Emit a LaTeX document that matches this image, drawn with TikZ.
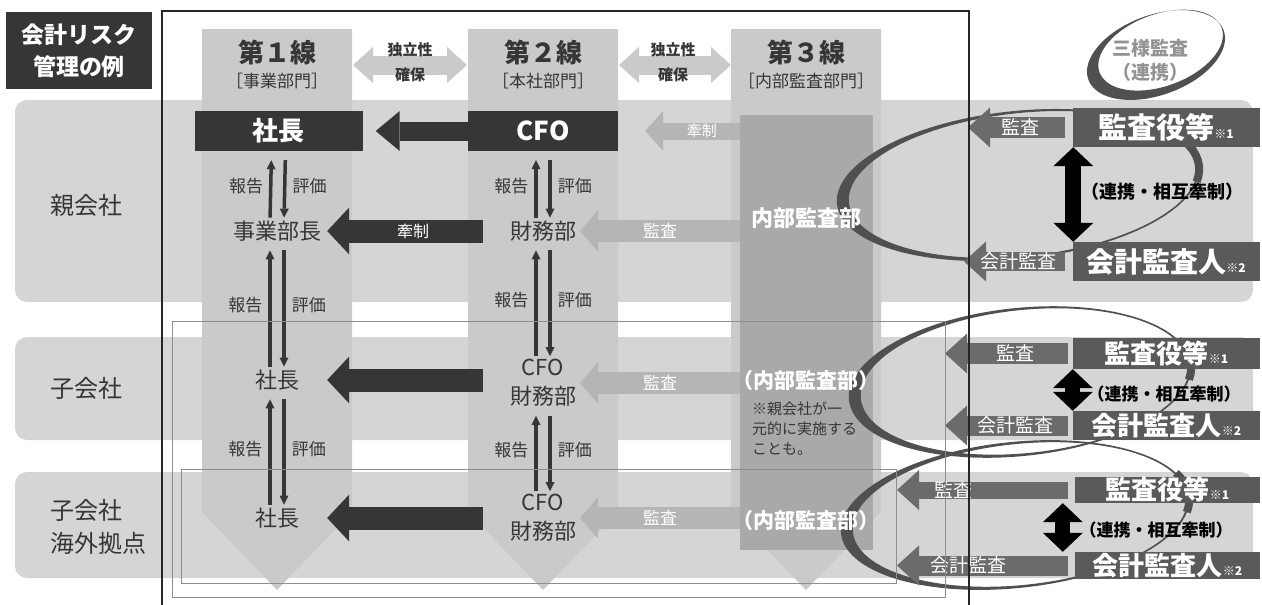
\documentclass[tikz,border=0pt]{standalone}
\usepackage{fontspec}
\setmainfont{Noto Sans CJK JP}
\usetikzlibrary{positioning,backgrounds,arrows.meta}

\definecolor{bandGray}{HTML}{D5D5D5}
\definecolor{colGray}{HTML}{CACACA}
\definecolor{auditGray}{HTML}{A9A9A9}
\definecolor{lightGray}{HTML}{B5B5B5}
\definecolor{darkGray}{HTML}{363636}
\definecolor{boxGray}{HTML}{5A5A5A}
\definecolor{swooshGray}{HTML}{505050}
\definecolor{frameGray}{HTML}{8E8E8E}

\newcommand{\fsz}[2]{\fontsize{#1}{#2}\selectfont}

\begin{document}
\begin{tikzpicture}[x=1pt, y=-1pt,
    bandStyle/.style={fill=bandGray, rounded corners=12pt},
    colStyle/.style={fill=colGray},
    titleNode/.style={fill=darkGray, text=white, font=\fsz{23}{32}\bfseries, align=center, minimum width=146pt, minimum height=77pt, inner sep=0pt},
    rowNode/.style={font=\fsz{24}{33}, align=left, anchor=west, inner sep=0pt, text=darkGray},
    headNode/.style={font=\fsz{26}{30}\bfseries, inner sep=0pt, text=darkGray},
    deptNode/.style={font=\fsz{17}{20}, inner sep=0pt, text=darkGray},
    indNode/.style={font=\fsz{15}{25}\bfseries, align=center, inner sep=0pt, text=darkGray},
    blkBox/.style={fill=darkGray, text=white, font=\fsz{26}{30}\bfseries, minimum height=40pt, inner sep=0pt},
    plainNode/.style={font=\fsz{22}{29}, align=center, inner sep=0pt, text=darkGray},
    auditNode/.style={font=\fsz{21}{25}\bfseries, text=white, inner sep=0pt},
    noteNode/.style={font=\fsz{15}{20}, align=left, anchor=north west, inner sep=0pt, text=darkGray},
    supBox/.style={fill=boxGray, text=white, font=\fsz{26}{30}\bfseries, minimum width=187pt, inner sep=0pt},
    coopNode/.style={font=\fsz{18}{20}\bfseries, inner sep=0pt, text=black},
    arrLbl/.style={font=\fsz{17}{20}, text=white, inner sep=0pt},
    repLbl/.style={font=\fsz{17}{20}, text=darkGray, inner sep=0pt},
    indArrow/.style={draw=colGray, line width=19pt, arrows={Triangle[length=20pt,width=36pt,line width=0pt]-Triangle[length=20pt,width=36pt,line width=0pt]}},
    darkArrow/.style={draw=darkGray, line width=23pt, arrows={-Triangle[length=22pt,width=47pt,line width=0pt]}},
    lightArrow/.style={draw=lightGray, line width=22pt, arrows={-Triangle[length=18pt,width=42pt,line width=0pt]}},
    sideArrow/.style={draw=boxGray!90!white, line width=21pt, arrows={-Triangle[length=22pt,width=40pt,line width=0pt]}},
    vArrow/.style={draw=black, line width=16pt, arrows={Triangle[length=19pt,width=40pt,line width=0pt]-Triangle[length=19pt,width=40pt,line width=0pt]}},
    thinArrow/.style={draw=darkGray, line width=3.5pt, arrows={-Triangle[length=9pt,width=9pt,line width=0pt]}},
    swoosh/.style={fill=swooshGray, even odd rule}
]
    \useasboundingbox (0,0) rectangle (1262,605);

    % bands and the three lines
    \begin{scope}[on background layer]
    \fill[bandStyle] (15,100) rectangle (1253,302);
    \fill[bandStyle] (15,337) rectangle (1253,440);
    \fill[bandStyle] (15,472) rectangle (1253,578);
    \foreach \cx in {277,543,806}
        \fill[colStyle] (\cx-75,29) -- (\cx+75,29) -- (\cx+75,512) -- (\cx,590) -- (\cx-75,512) -- cycle;
    \end{scope}
    \node[fill=auditGray, minimum width=133pt, minimum height=435pt, inner sep=0pt] (auditCol) at (806.5,332.5) {};

    \node[titleNode] (title) at (79,50.5) {会計リスク\\管理の例};
    \node[rowNode] (parent) at (50,205) {親会社};
    \node[rowNode] (sub) at (50,388) {子会社};
    \node[rowNode] (overseas) at (50,527) {子会社\\海外拠点};

    \node[headNode] (line1) at (277,52) {第１線};
    \node[deptNode] (dept1) at (277,81) {［事業部門］};
    \node[headNode] (line2) at (543,52) {第２線};
    \node[deptNode] (dept2) at (543,81) {［本社部門］};
    \node[headNode] (line3) at (806,52) {第３線};
    \node[deptNode] (dept3) at (806,81) {［内部監査部門］};

    \coordinate (ind1L) at (353,65);
    \coordinate (ind1R) at (467,65);
    \coordinate (ind2L) at (619,65);
    \coordinate (ind2R) at (731,65);
    \draw[indArrow] (ind1L) -- (ind1R);
    \draw[indArrow] (ind2L) -- (ind2R);
    \node[indNode] (ind1) at (410,62) {独立性\\確保};
    \node[indNode] (ind2) at (673,62) {独立性\\確保};

    % parent company
    \node[blkBox, minimum width=168pt] (pres1) at (278.5,131) {社長};
    \node[blkBox, minimum width=150pt] (cfo1) at (543,131) {CFO};
    \draw[darkArrow, line width=19pt, arrows={-Triangle[length=24pt,width=40pt,line width=0pt]}] (cfo1.west) -- ([xshift=13pt]pres1.east);
    \draw[lightArrow, line width=17pt, arrows={-Triangle[length=18pt,width=40pt,line width=0pt]}] (auditCol.west |- cfo1) -- ([xshift=27pt]cfo1.east) node[arrLbl, font=\fsz{15}{18}, pos=0.4] (kensei0) {牽制};
    \node[plainNode] (head1) at (277,231) {事業部長};
    \node[plainNode] (fin1) at (543,231) {財務部};
    \draw[darkArrow, shorten <=27pt] (fin1.west) -- ([xshift=6pt]head1.east) node[arrLbl, font=\fsz{16}{18}, pos=0.53] (kensei1) {牽制};
    \draw[lightArrow] (auditCol.west |- fin1) -- ([xshift=4pt]fin1.east) node[arrLbl, midway] (kansa1) {監査};

    % subsidiary
    \node[plainNode] (pres2) at (277,380) {社長};
    \node[plainNode] (cf2) at (543,383) {CFO\\財務部};
    \draw[darkArrow, shorten <=27pt] (cf2.west |- pres2) -- ([xshift=28pt]pres2.east);
    \draw[lightArrow] (auditCol.west |- cf2) -- ([xshift=4pt]cf2.east) node[arrLbl, midway] (kansa2) {監査};

    % overseas base
    \node[plainNode] (pres3) at (277,518) {社長};
    \node[plainNode] (cf3) at (543,518) {CFO\\財務部};
    \draw[darkArrow, shorten <=27pt] (cf3.west |- pres3) -- ([xshift=28pt]pres3.east);
    \draw[lightArrow] (auditCol.west |- cf3) -- ([xshift=4pt]cf3.east) node[arrLbl, midway] (kansa3) {監査};

    \foreach \up/\lo in {pres1/head1, cfo1/fin1, head1/pres2, fin1/cf2, pres2/pres3, cf2/cf3} {
        \draw[thinArrow, shorten >=9pt, shorten <=3pt] ([xshift=-7pt]\lo.north) -- ([xshift=-7pt]\up.south) node[repLbl, midway, left=6pt] (rep\up) {報告};
        \draw[thinArrow, shorten <=9pt, shorten >=3pt] ([xshift=7pt]\up.south) -- ([xshift=7pt]\lo.north) node[repLbl, midway, right=6pt] (eval\up) {評価};
    }

    % three-way audit swooshes
    \foreach \cx/\cy/\rx/\ry in {1018/185/182/74, 1020/382/172/74, 1015/515/175/73} {
        \pgfmathsetmacro\irx{\rx-7}
        \pgfmathsetmacro\iry{\ry-2.5}
        \pgfmathsetmacro\ax{\cx+\rx*cos(-20)}
        \pgfmathsetmacro\ay{\cy+\ry*sin(-20)}
        \begin{scope}[rotate around={6:(\cx,\cy)}]
        \fill[swoosh] (\cx,\cy) ellipse [x radius=\rx, y radius=\ry] (\cx+5,\cy) ellipse [x radius=\irx, y radius=\iry];
        \draw[swooshGray, line width=8pt] (\ax,\ay) arc [start angle=-20, end angle=12, x radius=\rx, y radius=\ry];
        \end{scope}
    }

    \node[auditNode, font=\fsz{22}{25}\bfseries] (audit1) at (806,218) {内部監査部};
    \node[auditNode] (audit2) at (806,381) {（内部監査部）};
    \node[noteNode] (note2) at (752,402) {※親会社が一\\元的に実施する\\ことも。};
    \node[auditNode] (audit3) at (806,521) {（内部監査部）};

    % auditors
    \node[supBox, font=\fsz{29}{30}\bfseries, minimum height=39pt] (sup1) at (1166,127.5) {監査役等{\fsz{12}{12}※1}};
    \node[supBox, font=\fsz{28}{30}\bfseries, minimum height=39pt] (acc1) at (1166,261.5) {会計監査人{\fsz{12}{12}※2}};
    \node[supBox, minimum height=31pt] (sup2) at (1166.5,353.5) {監査役等{\fsz{12}{12}※1}};
    \node[supBox, minimum height=29pt] (acc2) at (1166.5,425.5) {会計監査人{\fsz{12}{12}※2}};
    \node[supBox, minimum height=26pt, minimum width=185pt] (sup3) at (1167.5,490) {監査役等{\fsz{12}{12}※1}};
    \node[supBox, minimum height=27pt, minimum width=185pt] (acc3) at (1167.5,565.5) {会計監査人{\fsz{12}{12}※2}};

    \coordinate (tipS1) at (968,127.5);
    \coordinate (tipA1) at (964,261.5);
    \coordinate (tipS2) at (945,353.5);
    \coordinate (tipA2) at (945,425.5);
    \coordinate (tipS3) at (897,490);
    \coordinate (tipA3) at (897,565.5);
    \draw[sideArrow, shorten <=7pt] (sup1.west) -- (tipS1) node[arrLbl, font=\fsz{19}{20}, midway] (kansaS1) {監査};
    \draw[sideArrow, line width=19pt, shorten <=7pt] (acc1.west) -- (tipA1) node[arrLbl, font=\fsz{19}{20}, midway] (kaikeiA1) {会計監査};
    \draw[sideArrow, shorten <=5pt] (sup2.west) -- (tipS2) node[arrLbl, font=\fsz{19}{20}, pos=0.45] (kansaS2) {監査};
    \draw[sideArrow, line width=20pt, shorten <=5pt] (acc2.west) -- (tipA2) node[arrLbl, font=\fsz{19}{20}, pos=0.45] (kaikeiA2) {会計監査};
    \draw[sideArrow, line width=17pt, shorten <=7pt] (sup3.west) -- (tipS3) node[arrLbl, font=\fsz{19}{20}, pos=0.68] (kansaS3) {監査};
    \draw[sideArrow, line width=20pt, shorten <=7pt] (acc3.west) -- (tipA3) node[arrLbl, font=\fsz{19}{20}, pos=0.6] (kaikeiA3) {会計監査};

    \draw[vArrow] ([xshift=1pt]sup1.south west) -- ([xshift=1pt]acc1.north west);
    \draw[vArrow, line width=15pt] (sup2.south west) -- (acc2.north west);
    \draw[vArrow, line width=15pt] ([xshift=-12pt]sup3.south west) -- ([xshift=-12pt]acc3.north west);
    \node[coopNode] (coop1) at (1162,192) {（連携・相互牽制）};
    \node[coopNode, font=\fsz{17}{20}\bfseries] (coop2) at (1164,394) {（連携・相互牽制）};
    \node[coopNode, font=\fsz{17}{20}\bfseries] (coop3) at (1156,530) {（連携・相互牽制）};

    % frames
    \draw[frameGray, line width=1pt] (172,321) rectangle (945,597);
    \draw[frameGray, line width=1pt] (181,469) rectangle (896,583);
    \draw[black!85, line width=1.3pt] (162,606) -- (162,11) -- (969,11) -- (969,606);

    \fill[swoosh, rotate around={20:(1156,55)}] (1156,55) ellipse [x radius=72, y radius=40] (1162,52) ellipse [x radius=65, y radius=36];
    \node[font=\fsz{19}{24}\bfseries, text=gray!85, align=center, inner sep=0pt] (sanyo) at (1150,60) {三様監査\\（連携）};
\end{tikzpicture}
\end{document}
